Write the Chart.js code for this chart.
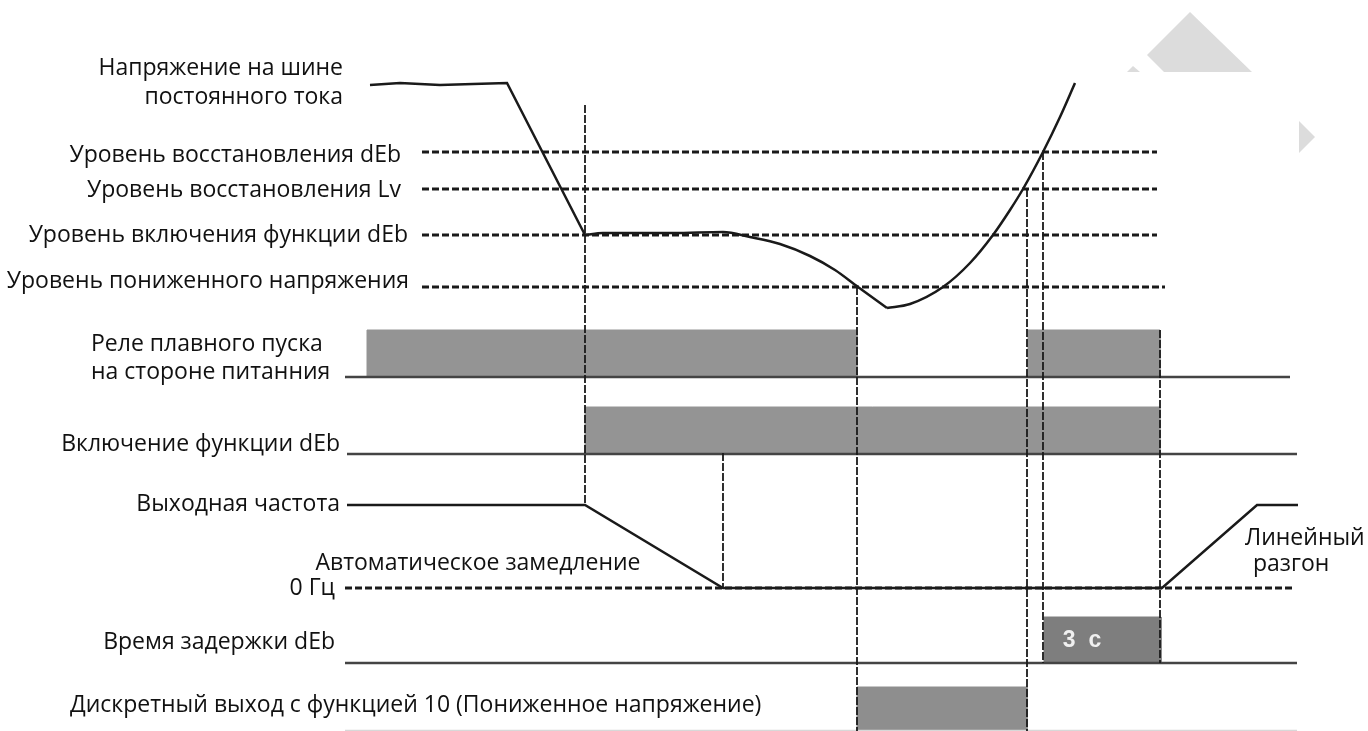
<!DOCTYPE html>
<html>
<head>
<meta charset="utf-8">
<script src="https://cdn.jsdelivr.net/npm/chart.js@4"></script>
<style>
  html, body { margin: 0; padding: 0; background: #fff; }
  canvas { display: block; }
</style>
</head>
<body>
<canvas id="diagram" width="1368" height="731"></canvas>
<script>
// DC bus voltage (time, level) - three pieces: fall, sag, recovery
const busTimeA = [370, 400, 440, 473, 507, 585];
const busLevelA = [85, 83, 85, 84, 83, 235];
const busTimeB = [585, 603, 673, 723, 750, 780, 810, 835, 858, 887];
const busLevelB = [235, 233, 233, 232, 237, 244, 256, 270, 287, 308];
const busTimeC = [887, 910, 943, 970, 993, 1010, 1023, 1043, 1060, 1075];
const busLevelC = [308, 304, 287, 263, 235, 210, 189, 152, 117, 83];

// threshold levels
const levelNames = [
  "Уровень восстановления dEb",
  "Уровень восстановления Lv",
  "Уровень включения функции dEb",
  "Уровень пониженного напряжения"
];
const levelValues = [152, 189, 235, 287];
const levelStart = [422, 422, 422, 422];
const levelEnd = [1157, 1157, 1157, 1165];

// vertical event markers
const markerTimes = [585, 723, 857, 1027, 1043, 1160];
const markerFrom = [105, 453, 287, 189, 152, 330];
const markerTo = [505, 588, 731, 731, 663, 663];

// digital signals (time, state)
const relayTimes = [345, 367, 367, 857, 857, 1028, 1028, 1160, 1160, 1290];
const relayStates = [0, 0, 1, 1, 0, 0, 1, 1, 0, 0];
const debTimes = [347, 585, 585, 1160, 1160, 1297];
const debStates = [0, 0, 1, 1, 0, 0];
const freqTimes = [347, 585, 723, 1162, 1257, 1298];
const freqStates = [1, 1, 0, 0, 1, 1];
const delayTimes = [345, 1044, 1044, 1161, 1161, 1297];
const delayStates = [0, 0, 1, 1, 0, 0];
const doTimes = [345, 857, 857, 1027, 1027, 1297];
const doStates = [0, 0, 1, 1, 0, 0];
const zeroTimes = [345, 1292];

// row layout (base line and high line of each signal row)
const rows = {
  relay: { base: 377, high: 330 },
  deb: { base: 454, high: 407 },
  freq: { base: 588, high: 505 },
  delay: { base: 663, high: 617 },
  dout: { base: 731, high: 687 }
};

const FONT = '23px "Open Sans", sans-serif';

// texts and where they sit
const texts = [
  ["Напряжение на шине", 343, 68, "right"],
  ["постоянного тока", 343, 97, "right"],
  [levelNames[0], 401, 155, "right"],
  [levelNames[1], 401, 190, "right"],
  [levelNames[2], 408, 235, "right"],
  [levelNames[3], 409, 281, "right"],
  ["Реле плавного пуска", 91, 344, "left"],
  ["на стороне питанния", 91, 372, "left"],
  ["Включение функции dEb", 340, 444, "right"],
  ["Выходная частота", 340, 504, "right"],
  ["Автоматическое замедление", 478, 563, "center"],
  ["0 Гц", 335, 588, "right"],
  ["Линейный", 1245, 538, "left"],
  ["разгон", 1253, 564, "left"],
  ["Время задержки dEb", 335, 642, "right"],
  ["Дискретный выход с функцией 10 (Пониженное напряжение)", 70, 705, "left"]
];

function pts(xs, ys) {
  return xs.map((x, i) => ({ x: x, y: ys[i] }));
}

function stepPts(times, states, row) {
  return times.map((t, i) => ({ x: t, y: row.base - states[i] * (row.base - row.high) }));
}

const datasets = [];

// bus voltage curve
datasets.push({ data: pts(busTimeA, busLevelA), borderColor: "#1a1a1a", borderWidth: 2.5, tension: 0, order: 1 });
datasets.push({ data: pts(busTimeB, busLevelB), borderColor: "#1a1a1a", borderWidth: 2.5, cubicInterpolationMode: "monotone", order: 1 });
datasets.push({ data: pts(busTimeC, busLevelC), borderColor: "#1a1a1a", borderWidth: 2.5, cubicInterpolationMode: "monotone", order: 1 });

// output frequency
datasets.push({ data: stepPts(freqTimes, freqStates, rows.freq), borderColor: "#1a1a1a", borderWidth: 2.5, order: 1 });

// threshold levels and 0 Hz
levelValues.forEach((v, i) => {
  datasets.push({
    data: [{ x: levelStart[i], y: v }, { x: levelEnd[i], y: v }],
    borderColor: "#1a1a1a", borderWidth: 3, borderDash: [7, 3], order: 3
  });
});
datasets.push({
  data: zeroTimes.map(t => ({ x: t, y: rows.freq.base })),
  borderColor: "#1a1a1a", borderWidth: 3, borderDash: [7, 3], order: 3
});

// vertical markers
markerTimes.forEach((t, i) => {
  datasets.push({
    data: [{ x: t, y: markerFrom[i] }, { x: t, y: markerTo[i] }],
    borderColor: "#1a1a1a", borderWidth: 1.8, borderDash: [8, 2], order: 2
  });
});

// signal rows: filled blocks plus base lines
function addSignal(times, states, row, fillColor, lineColor) {
  datasets.push({
    data: stepPts(times, states, row),
    borderColor: fillColor, borderWidth: 1, backgroundColor: fillColor,
    fill: { value: row.base }, order: 6
  });
  datasets.push({
    data: [{ x: times[0], y: row.base }, { x: times[times.length - 1], y: row.base }],
    borderColor: lineColor, borderWidth: 2.5, order: 4
  });
}
addSignal(relayTimes, relayStates, rows.relay, "#949494", "#444");
addSignal(debTimes, debStates, rows.deb, "#949494", "#444");
addSignal(delayTimes, delayStates, rows.delay, "#7e7e7e", "#444");
addSignal(doTimes, doStates, rows.dout, "#8e8e8e", "#d8d8d8");

const decorations = {
  id: "decorations",
  beforeDatasetsDraw(chart) {
    const { ctx, scales: { x, y } } = chart;
    const poly = (p) => {
      ctx.beginPath();
      p.forEach((q, i) => {
        const px = x.getPixelForValue(q[0]), py = y.getPixelForValue(q[1]);
        if (i === 0) ctx.moveTo(px, py); else ctx.lineTo(px, py);
      });
      ctx.closePath();
      ctx.fill();
    };
    ctx.save();
    ctx.fillStyle = "#dcdcdc";
    poly([[1147, 55], [1190, 12], [1252, 72], [1164, 72]]);
    poly([[1127, 72], [1133, 66], [1140, 72]]);
    poly([[1299, 121], [1315, 137], [1299, 153]]);
    ctx.restore();
  },
  afterDatasetsDraw(chart) {
    const { ctx, scales: { x, y } } = chart;
    ctx.save();
    ctx.font = FONT;
    ctx.fillStyle = "#111";
    ctx.textBaseline = "middle";
    texts.forEach(([s, tx, ty, align]) => {
      ctx.textAlign = align;
      ctx.fillText(s, x.getPixelForValue(tx), y.getPixelForValue(ty));
    });
    // delay value inside the block
    ctx.font = 'bold 23px "Liberation Sans Narrow", "Liberation Sans", sans-serif';
    ctx.fillStyle = "#f0f0f0";
    ctx.textAlign = "center";
    ctx.fillText("3  с", x.getPixelForValue(1082), y.getPixelForValue(641));
    ctx.restore();
  }
};

new Chart(document.getElementById("diagram"), {
  type: "line",
  data: { datasets: datasets },
  options: {
    responsive: false,
    animation: false,
    devicePixelRatio: 1,
    layout: { padding: 0 },
    elements: { point: { radius: 0 }, line: { tension: 0, borderCapStyle: "butt" } },
    plugins: { legend: { display: false }, tooltip: { enabled: false } },
    scales: {
      x: { type: "linear", min: 0, max: 1368, display: false },
      y: { type: "linear", min: 0, max: 731, reverse: true, display: false }
    }
  },
  plugins: [decorations]
});
</script>
</body>
</html>
